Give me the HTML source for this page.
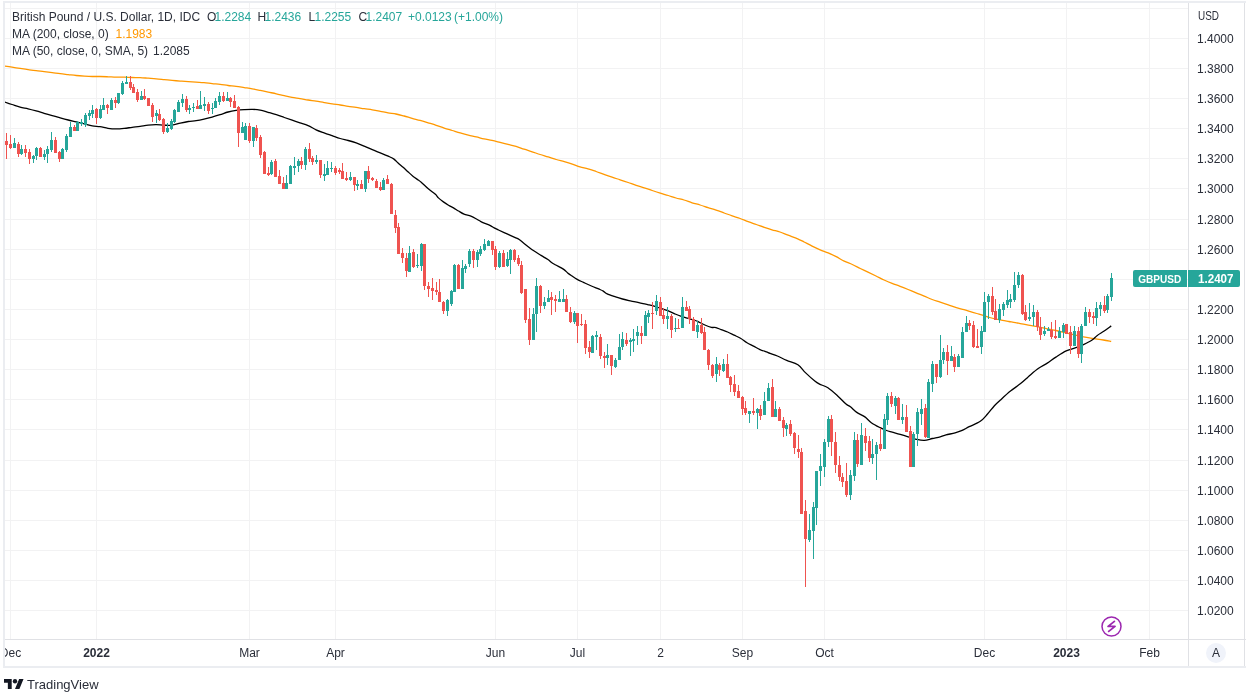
<!DOCTYPE html><html><head><meta charset="utf-8"><style>html,body{margin:0;padding:0;background:#fff;}body{width:1246px;height:695px;overflow:hidden;position:relative;font-family:"Liberation Sans",sans-serif;}svg{position:absolute;left:0;top:0;will-change:transform;}text{font-family:"Liberation Sans",sans-serif;}.t{opacity:0.999}</style></head><body>
<svg width="1246" height="695" viewBox="0 0 1246 695">
<defs><clipPath id="pane"><rect x="5" y="3" width="1183" height="636"/></clipPath><clipPath id="taxis"><rect x="5" y="640" width="1183" height="26"/></clipPath></defs>
<g shape-rendering="crispEdges">
<rect x="3" y="1" width="1243" height="2" fill="#ebedf1"/>
<rect x="3" y="1" width="2" height="667" fill="#ebedf1"/>
<rect x="1244" y="3" width="1" height="663" fill="#e0e1e5"/>
<rect x="3" y="666" width="1243" height="2" fill="#ebedf1"/>
<g clip-path="url(#pane)">
<rect x="5" y="8" width="1183" height="1" fill="#f2f2f3"/>
<rect x="5" y="38" width="1183" height="1" fill="#f2f2f3"/>
<rect x="5" y="68" width="1183" height="1" fill="#f2f2f3"/>
<rect x="5" y="98" width="1183" height="1" fill="#f2f2f3"/>
<rect x="5" y="128" width="1183" height="1" fill="#f2f2f3"/>
<rect x="5" y="158" width="1183" height="1" fill="#f2f2f3"/>
<rect x="5" y="188" width="1183" height="1" fill="#f2f2f3"/>
<rect x="5" y="219" width="1183" height="1" fill="#f2f2f3"/>
<rect x="5" y="249" width="1183" height="1" fill="#f2f2f3"/>
<rect x="5" y="279" width="1183" height="1" fill="#f2f2f3"/>
<rect x="5" y="309" width="1183" height="1" fill="#f2f2f3"/>
<rect x="5" y="339" width="1183" height="1" fill="#f2f2f3"/>
<rect x="5" y="369" width="1183" height="1" fill="#f2f2f3"/>
<rect x="5" y="399" width="1183" height="1" fill="#f2f2f3"/>
<rect x="5" y="429" width="1183" height="1" fill="#f2f2f3"/>
<rect x="5" y="460" width="1183" height="1" fill="#f2f2f3"/>
<rect x="5" y="490" width="1183" height="1" fill="#f2f2f3"/>
<rect x="5" y="520" width="1183" height="1" fill="#f2f2f3"/>
<rect x="5" y="550" width="1183" height="1" fill="#f2f2f3"/>
<rect x="5" y="580" width="1183" height="1" fill="#f2f2f3"/>
<rect x="5" y="610" width="1183" height="1" fill="#f2f2f3"/>
<rect x="10" y="3" width="1" height="636" fill="#f2f2f3"/>
<rect x="96" y="3" width="1" height="636" fill="#f2f2f3"/>
<rect x="249" y="3" width="1" height="636" fill="#f2f2f3"/>
<rect x="335" y="3" width="1" height="636" fill="#f2f2f3"/>
<rect x="495" y="3" width="1" height="636" fill="#f2f2f3"/>
<rect x="577" y="3" width="1" height="636" fill="#f2f2f3"/>
<rect x="660" y="3" width="1" height="636" fill="#f2f2f3"/>
<rect x="742" y="3" width="1" height="636" fill="#f2f2f3"/>
<rect x="824" y="3" width="1" height="636" fill="#f2f2f3"/>
<rect x="984" y="3" width="1" height="636" fill="#f2f2f3"/>
<rect x="1066" y="3" width="1" height="636" fill="#f2f2f3"/>
<rect x="1149" y="3" width="1" height="636" fill="#f2f2f3"/>
</g>
<rect x="1188" y="3" width="1" height="663" fill="#e0e1e5"/>
<rect x="5" y="639" width="1241" height="1" fill="#e0e1e5"/>
</g>
<g clip-path="url(#pane)" fill="none" stroke-linejoin="round">
<path d="M4.00,65.90 C5.33,66.12 9.32,66.78 12.00,67.20 C14.68,67.62 17.42,68.00 20.10,68.40 C22.78,68.80 25.43,69.22 28.10,69.60 C30.77,69.98 33.43,70.37 36.10,70.70 C38.77,71.03 41.42,71.28 44.10,71.60 C46.78,71.92 49.52,72.25 52.20,72.60 C54.88,72.95 57.53,73.37 60.20,73.70 C62.87,74.03 65.53,74.30 68.20,74.60 C70.87,74.90 73.52,75.25 76.20,75.50 C78.88,75.75 81.62,75.93 84.30,76.10 C86.98,76.27 89.68,76.43 92.30,76.50 C94.92,76.57 97.38,76.45 100.00,76.50 C102.62,76.55 105.32,76.68 108.00,76.80 C110.68,76.92 113.42,77.13 116.10,77.20 C118.78,77.27 121.43,77.15 124.10,77.20 C126.77,77.25 129.43,77.43 132.10,77.50 C134.77,77.57 137.42,77.48 140.10,77.60 C142.78,77.72 145.52,78.00 148.20,78.20 C150.88,78.40 153.53,78.57 156.20,78.80 C158.87,79.03 161.53,79.33 164.20,79.60 C166.87,79.87 169.52,80.15 172.20,80.40 C174.88,80.65 177.62,80.88 180.30,81.10 C182.98,81.32 185.68,81.52 188.30,81.70 C190.92,81.88 193.38,82.05 196.00,82.20 C198.62,82.35 201.32,82.37 204.00,82.60 C206.68,82.83 209.42,83.30 212.10,83.60 C214.78,83.90 217.43,84.08 220.10,84.40 C222.77,84.72 225.43,85.17 228.10,85.50 C230.77,85.83 233.42,86.05 236.10,86.40 C238.78,86.75 241.52,87.20 244.20,87.60 C246.88,88.00 249.53,88.33 252.20,88.80 C254.87,89.27 257.53,89.85 260.20,90.40 C262.87,90.95 265.52,91.53 268.20,92.10 C270.88,92.67 273.62,93.20 276.30,93.80 C278.98,94.40 281.68,95.10 284.30,95.70 C286.92,96.30 289.38,96.92 292.00,97.40 C294.62,97.88 297.32,98.17 300.00,98.60 C302.68,99.03 305.42,99.57 308.10,100.00 C310.78,100.43 313.43,100.77 316.10,101.20 C318.77,101.63 321.43,102.15 324.10,102.60 C326.77,103.05 329.42,103.50 332.10,103.90 C334.78,104.30 337.52,104.60 340.20,105.00 C342.88,105.40 345.53,105.90 348.20,106.30 C350.87,106.70 353.53,107.00 356.20,107.40 C358.87,107.80 361.52,108.30 364.20,108.70 C366.88,109.10 369.62,109.37 372.30,109.80 C374.98,110.23 377.68,110.78 380.30,111.30 C382.92,111.82 385.38,112.45 388.00,112.90 C390.62,113.35 393.32,113.48 396.00,114.00 C398.68,114.52 401.42,115.28 404.10,116.00 C406.78,116.72 409.43,117.57 412.10,118.30 C414.77,119.03 417.43,119.65 420.10,120.40 C422.77,121.15 425.42,121.98 428.10,122.80 C430.78,123.62 433.52,124.42 436.20,125.30 C438.88,126.18 441.53,127.23 444.20,128.10 C446.87,128.97 449.53,129.70 452.20,130.50 C454.87,131.30 457.52,132.13 460.20,132.90 C462.88,133.67 465.62,134.43 468.30,135.10 C470.98,135.77 473.68,136.27 476.30,136.90 C478.92,137.53 481.38,138.32 484.00,138.90 C486.62,139.48 489.32,139.82 492.00,140.40 C494.68,140.98 497.42,141.73 500.10,142.40 C502.78,143.07 505.43,143.73 508.10,144.40 C510.77,145.07 513.43,145.60 516.10,146.40 C518.77,147.20 521.42,148.30 524.10,149.20 C526.78,150.10 529.52,150.92 532.20,151.80 C534.88,152.68 537.53,153.65 540.20,154.50 C542.87,155.35 545.53,156.07 548.20,156.90 C550.87,157.73 553.52,158.70 556.20,159.50 C558.88,160.30 561.62,160.93 564.30,161.70 C566.98,162.47 569.68,163.23 572.30,164.10 C574.92,164.97 577.38,166.12 580.00,166.90 C582.62,167.68 585.32,168.03 588.00,168.80 C590.68,169.57 593.42,170.57 596.10,171.50 C598.78,172.43 601.43,173.45 604.10,174.40 C606.77,175.35 609.43,176.30 612.10,177.20 C614.77,178.10 617.42,178.92 620.10,179.80 C622.78,180.68 625.52,181.58 628.20,182.50 C630.88,183.42 633.53,184.42 636.20,185.30 C638.87,186.18 641.53,186.93 644.20,187.80 C646.87,188.67 649.52,189.62 652.20,190.50 C654.88,191.38 657.62,192.27 660.30,193.10 C662.98,193.93 665.68,194.68 668.30,195.50 C670.92,196.32 673.38,197.25 676.00,198.00 C678.62,198.75 681.32,199.20 684.00,200.00 C686.68,200.80 689.42,201.97 692.10,202.80 C694.78,203.63 697.43,204.20 700.10,205.00 C702.77,205.80 705.43,206.75 708.10,207.60 C710.77,208.45 713.42,209.20 716.10,210.10 C718.78,211.00 721.52,212.03 724.20,213.00 C726.88,213.97 729.53,214.98 732.20,215.90 C734.87,216.82 737.53,217.53 740.20,218.50 C742.87,219.47 745.52,220.70 748.20,221.70 C750.88,222.70 753.62,223.57 756.30,224.50 C758.98,225.43 761.68,226.42 764.30,227.30 C766.92,228.18 769.38,229.02 772.00,229.80 C774.62,230.58 777.32,231.10 780.00,232.00 C782.68,232.90 785.15,234.07 788.10,235.20 C791.05,236.33 795.03,237.67 797.70,238.80 C800.37,239.93 801.70,240.78 804.10,242.00 C806.50,243.22 809.42,244.80 812.10,246.10 C814.78,247.40 817.52,248.67 820.20,249.80 C822.88,250.93 825.53,251.75 828.20,252.90 C830.87,254.05 833.53,255.33 836.20,256.70 C838.87,258.07 841.52,259.80 844.20,261.10 C846.88,262.40 849.62,263.27 852.30,264.50 C854.98,265.73 857.68,267.22 860.30,268.50 C862.92,269.78 865.38,270.95 868.00,272.20 C870.62,273.45 873.32,274.70 876.00,276.00 C878.68,277.30 881.42,278.77 884.10,280.00 C886.78,281.23 889.43,282.35 892.10,283.40 C894.77,284.45 897.43,285.28 900.10,286.30 C902.77,287.32 905.42,288.40 908.10,289.50 C910.78,290.60 913.52,291.80 916.20,292.90 C918.88,294.00 921.53,295.00 924.20,296.10 C926.87,297.20 929.53,298.50 932.20,299.50 C934.87,300.50 937.52,301.20 940.20,302.10 C942.88,303.00 945.62,303.97 948.30,304.90 C950.98,305.83 953.68,306.92 956.30,307.70 C958.92,308.48 961.65,308.95 964.00,309.60 C966.35,310.25 968.27,310.95 970.40,311.60 C972.53,312.25 974.65,312.87 976.80,313.50 C978.95,314.13 981.15,314.73 983.30,315.40 C985.45,316.07 987.57,316.88 989.70,317.50 C991.83,318.12 993.97,318.62 996.10,319.10 C998.23,319.58 1000.37,320.00 1002.50,320.40 C1004.63,320.80 1006.75,321.13 1008.90,321.50 C1011.05,321.87 1013.25,322.20 1015.40,322.60 C1017.55,323.00 1019.37,323.45 1021.80,323.90 C1024.23,324.35 1027.20,324.80 1030.00,325.30 C1032.80,325.80 1035.72,326.30 1038.60,326.90 C1041.48,327.50 1044.42,328.30 1047.30,328.90 C1050.18,329.50 1052.75,329.83 1055.90,330.50 C1059.05,331.17 1062.75,332.08 1066.20,332.90 C1069.65,333.72 1073.72,334.75 1076.60,335.40 C1079.48,336.05 1080.92,336.32 1083.50,336.80 C1086.08,337.28 1088.80,337.77 1092.10,338.30 C1095.40,338.83 1100.12,339.47 1103.30,340.00 C1106.48,340.53 1109.88,341.25 1111.20,341.50" stroke="#ff9800" stroke-width="1.3"/>
<path d="M4.00,101.80 C5.33,102.25 9.32,103.60 12.00,104.50 C14.68,105.40 17.42,106.48 20.10,107.20 C22.78,107.92 25.43,108.18 28.10,108.80 C30.77,109.42 33.43,110.15 36.10,110.90 C38.77,111.65 41.42,112.50 44.10,113.30 C46.78,114.10 49.52,114.93 52.20,115.70 C54.88,116.47 57.53,117.18 60.20,117.90 C62.87,118.62 65.53,119.33 68.20,120.00 C70.87,120.67 73.52,121.25 76.20,121.90 C78.88,122.55 81.62,123.23 84.30,123.90 C86.98,124.57 89.68,125.43 92.30,125.90 C94.92,126.37 97.38,126.30 100.00,126.70 C102.62,127.10 105.33,127.93 108.00,128.30 C110.67,128.67 113.32,128.88 116.00,128.90 C118.68,128.92 121.42,128.67 124.10,128.40 C126.78,128.13 129.43,127.65 132.10,127.30 C134.77,126.95 137.42,126.67 140.10,126.30 C142.78,125.93 145.52,125.37 148.20,125.10 C150.88,124.83 153.53,124.68 156.20,124.70 C158.87,124.72 161.53,125.13 164.20,125.20 C166.87,125.27 169.52,125.45 172.20,125.10 C174.88,124.75 177.62,123.70 180.30,123.10 C182.98,122.50 185.65,121.92 188.30,121.50 C190.95,121.08 193.58,121.00 196.20,120.60 C198.82,120.20 201.35,119.68 204.00,119.10 C206.65,118.52 209.42,117.83 212.10,117.10 C214.78,116.37 217.43,115.55 220.10,114.70 C222.77,113.85 225.43,112.72 228.10,112.00 C230.77,111.28 233.42,110.80 236.10,110.40 C238.78,110.00 241.52,109.78 244.20,109.60 C246.88,109.42 249.53,109.22 252.20,109.30 C254.87,109.38 257.53,109.60 260.20,110.10 C262.87,110.60 265.52,111.53 268.20,112.30 C270.88,113.07 273.62,113.83 276.30,114.70 C278.98,115.57 281.65,116.58 284.30,117.50 C286.95,118.42 289.58,119.32 292.20,120.20 C294.82,121.08 297.35,121.90 300.00,122.80 C302.65,123.70 305.42,124.43 308.10,125.60 C310.78,126.77 313.43,128.58 316.10,129.80 C318.77,131.02 321.43,131.92 324.10,132.90 C326.77,133.88 329.42,134.77 332.10,135.70 C334.78,136.63 337.52,137.70 340.20,138.50 C342.88,139.30 345.53,139.77 348.20,140.50 C350.87,141.23 353.53,141.97 356.20,142.90 C358.87,143.83 361.52,144.97 364.20,146.10 C366.88,147.23 369.62,148.57 372.30,149.70 C374.98,150.83 377.65,151.82 380.30,152.90 C382.95,153.98 385.92,155.17 388.20,156.20 C390.48,157.23 392.35,157.95 394.00,159.10 C395.65,160.25 396.58,161.73 398.10,163.10 C399.62,164.47 401.42,165.82 403.10,167.30 C404.78,168.78 406.52,170.48 408.20,172.00 C409.88,173.52 411.53,175.07 413.20,176.40 C414.87,177.73 416.87,179.03 418.20,180.00 C419.53,180.97 419.52,180.73 421.20,182.20 C422.88,183.67 425.93,186.78 428.30,188.80 C430.67,190.82 433.72,192.78 435.40,194.30 C437.08,195.82 437.07,196.63 438.40,197.90 C439.73,199.17 441.72,200.68 443.40,201.90 C445.08,203.12 446.82,204.20 448.50,205.20 C450.18,206.20 451.83,206.93 453.50,207.90 C455.17,208.87 456.75,209.97 458.50,211.00 C460.25,212.03 461.93,213.23 464.00,214.10 C466.07,214.97 468.75,215.35 470.90,216.20 C473.05,217.05 475.17,218.27 476.90,219.20 C478.63,220.13 479.13,220.78 481.30,221.80 C483.47,222.82 487.75,224.28 489.90,225.30 C492.05,226.32 492.77,227.12 494.20,227.90 C495.63,228.68 496.35,229.00 498.50,230.00 C500.65,231.00 504.22,232.60 507.10,233.90 C509.98,235.20 513.78,236.87 515.80,237.80 C517.82,238.73 517.77,238.52 519.20,239.50 C520.63,240.48 522.10,241.90 524.40,243.70 C526.70,245.50 530.23,248.35 533.00,250.30 C535.77,252.25 538.52,253.87 541.00,255.40 C543.48,256.93 546.08,258.28 547.90,259.50 C549.72,260.72 550.58,261.78 551.90,262.70 C553.22,263.62 553.83,263.88 555.80,265.00 C557.77,266.12 561.72,268.08 563.70,269.40 C565.68,270.72 566.38,271.85 567.70,272.90 C569.02,273.95 570.02,274.62 571.60,275.70 C573.18,276.78 575.22,278.28 577.20,279.40 C579.18,280.52 581.13,281.30 583.50,282.40 C585.87,283.50 588.77,284.87 591.40,286.00 C594.03,287.13 597.32,288.35 599.30,289.20 C601.28,290.05 601.98,290.32 603.30,291.10 C604.62,291.88 605.15,292.93 607.20,293.90 C609.25,294.87 613.05,296.05 615.60,296.90 C618.15,297.75 620.28,298.38 622.50,299.00 C624.72,299.62 626.75,300.12 628.90,300.60 C631.05,301.08 633.23,301.43 635.40,301.90 C637.57,302.37 639.73,302.92 641.90,303.40 C644.07,303.88 646.25,304.30 648.40,304.80 C650.55,305.30 652.65,305.77 654.80,306.40 C656.95,307.03 659.13,307.88 661.30,308.60 C663.47,309.32 665.63,309.87 667.80,310.70 C669.97,311.53 672.15,312.68 674.30,313.60 C676.45,314.52 678.55,315.45 680.70,316.20 C682.85,316.95 684.77,317.38 687.20,318.10 C689.63,318.82 693.42,319.88 695.30,320.50 C697.18,321.12 696.90,321.05 698.50,321.80 C700.10,322.55 702.75,324.08 704.90,325.00 C707.05,325.92 709.55,326.87 711.40,327.30 C713.25,327.73 714.38,327.22 716.00,327.60 C717.62,327.98 719.17,328.87 721.10,329.60 C723.03,330.33 725.43,331.08 727.60,332.00 C729.77,332.92 731.95,334.05 734.10,335.10 C736.25,336.15 738.35,337.02 740.50,338.30 C742.65,339.58 744.83,341.50 747.00,342.80 C749.17,344.10 751.33,344.97 753.50,346.10 C755.67,347.23 757.85,348.63 760.00,349.60 C762.15,350.57 764.73,351.28 766.40,351.90 C768.07,352.52 768.17,352.62 770.00,353.30 C771.83,353.98 774.62,354.82 777.40,356.00 C780.18,357.18 783.28,358.93 786.70,360.40 C790.12,361.87 794.78,362.77 797.90,364.80 C801.02,366.83 802.58,369.90 805.40,372.60 C808.22,375.30 812.45,379.08 814.80,381.00 C817.15,382.92 817.32,382.97 819.50,384.10 C821.68,385.23 824.78,385.75 827.90,387.80 C831.02,389.85 835.18,393.70 838.20,396.40 C841.22,399.10 843.97,402.27 846.00,404.00 C848.03,405.73 848.60,405.40 850.40,406.80 C852.20,408.20 854.38,410.72 856.80,412.40 C859.22,414.08 862.48,415.18 864.90,416.90 C867.32,418.62 868.77,420.90 871.30,422.70 C873.83,424.50 877.57,426.40 880.10,427.70 C882.63,429.00 884.48,429.77 886.50,430.50 C888.52,431.23 889.92,431.47 892.20,432.10 C894.48,432.73 897.53,433.50 900.20,434.30 C902.87,435.10 905.53,436.07 908.20,436.90 C910.87,437.73 913.52,438.72 916.20,439.30 C918.88,439.88 921.62,440.53 924.30,440.40 C926.98,440.27 929.65,439.10 932.30,438.50 C934.95,437.90 937.92,437.40 940.20,436.80 C942.48,436.20 943.52,435.55 946.00,434.90 C948.48,434.25 952.40,433.65 955.10,432.90 C957.80,432.15 959.85,431.43 962.20,430.40 C964.55,429.37 966.18,428.22 969.20,426.70 C972.22,425.18 977.28,423.37 980.30,421.30 C983.32,419.23 984.95,416.90 987.30,414.30 C989.65,411.70 992.22,408.08 994.40,405.70 C996.58,403.32 997.72,402.43 1000.40,400.00 C1003.08,397.57 1007.13,393.83 1010.50,391.10 C1013.87,388.37 1017.75,385.87 1020.60,383.60 C1023.45,381.33 1026.03,378.90 1027.60,377.50 C1029.17,376.10 1028.17,376.73 1030.00,375.20 C1031.83,373.67 1035.72,370.32 1038.60,368.30 C1041.48,366.28 1044.42,364.97 1047.30,363.10 C1050.18,361.23 1052.75,359.13 1055.90,357.10 C1059.05,355.07 1062.75,352.52 1066.20,350.90 C1069.65,349.28 1073.72,348.45 1076.60,347.40 C1079.48,346.35 1080.92,345.83 1083.50,344.60 C1086.08,343.37 1089.80,341.53 1092.10,340.00 C1094.40,338.47 1095.28,336.90 1097.30,335.40 C1099.32,333.90 1101.88,332.58 1104.20,331.00 C1106.52,329.42 1110.03,326.75 1111.20,325.90" stroke="#000" stroke-width="1.3"/>
</g>
<g clip-path="url(#pane)" shape-rendering="crispEdges">
<rect x="6" y="133" width="1" height="26" fill="#ef5350"/>
<rect x="5" y="141" width="3" height="4" fill="#ef5350"/>
<rect x="10" y="135" width="1" height="14" fill="#ef5350"/>
<rect x="9" y="144" width="3" height="4" fill="#ef5350"/>
<rect x="14" y="138" width="1" height="10" fill="#26a69a"/>
<rect x="13" y="143" width="3" height="5" fill="#26a69a"/>
<rect x="18" y="142" width="1" height="15" fill="#ef5350"/>
<rect x="17" y="144" width="3" height="10" fill="#ef5350"/>
<rect x="21" y="145" width="1" height="10" fill="#26a69a"/>
<rect x="20" y="149" width="3" height="5" fill="#26a69a"/>
<rect x="25" y="145" width="1" height="12" fill="#ef5350"/>
<rect x="24" y="149" width="3" height="4" fill="#ef5350"/>
<rect x="29" y="149" width="1" height="15" fill="#ef5350"/>
<rect x="28" y="152" width="3" height="7" fill="#ef5350"/>
<rect x="33" y="155" width="1" height="8" fill="#26a69a"/>
<rect x="32" y="156" width="3" height="3" fill="#26a69a"/>
<rect x="36" y="147" width="1" height="13" fill="#26a69a"/>
<rect x="35" y="148" width="3" height="8" fill="#26a69a"/>
<rect x="40" y="147" width="1" height="10" fill="#ef5350"/>
<rect x="39" y="148" width="3" height="9" fill="#ef5350"/>
<rect x="44" y="150" width="1" height="10" fill="#26a69a"/>
<rect x="43" y="154" width="3" height="3" fill="#26a69a"/>
<rect x="47" y="146" width="1" height="17" fill="#26a69a"/>
<rect x="46" y="149" width="3" height="5" fill="#26a69a"/>
<rect x="51" y="132" width="1" height="20" fill="#26a69a"/>
<rect x="50" y="140" width="3" height="10" fill="#26a69a"/>
<rect x="55" y="137" width="1" height="16" fill="#ef5350"/>
<rect x="54" y="140" width="3" height="13" fill="#ef5350"/>
<rect x="59" y="151" width="1" height="11" fill="#ef5350"/>
<rect x="58" y="152" width="3" height="7" fill="#ef5350"/>
<rect x="62" y="148" width="1" height="11" fill="#26a69a"/>
<rect x="61" y="149" width="3" height="10" fill="#26a69a"/>
<rect x="66" y="134" width="1" height="18" fill="#26a69a"/>
<rect x="65" y="136" width="3" height="14" fill="#26a69a"/>
<rect x="70" y="122" width="1" height="15" fill="#26a69a"/>
<rect x="69" y="127" width="3" height="10" fill="#26a69a"/>
<rect x="74" y="125" width="1" height="6" fill="#ef5350"/>
<rect x="73" y="127" width="3" height="4" fill="#ef5350"/>
<rect x="77" y="121" width="1" height="10" fill="#26a69a"/>
<rect x="76" y="122" width="3" height="9" fill="#26a69a"/>
<rect x="81" y="119" width="1" height="7" fill="#26a69a"/>
<rect x="80" y="122" width="3" height="2" fill="#26a69a"/>
<rect x="85" y="113" width="1" height="14" fill="#26a69a"/>
<rect x="84" y="115" width="3" height="10" fill="#26a69a"/>
<rect x="89" y="110" width="1" height="10" fill="#26a69a"/>
<rect x="88" y="113" width="3" height="3" fill="#26a69a"/>
<rect x="92" y="105" width="1" height="13" fill="#26a69a"/>
<rect x="91" y="110" width="3" height="4" fill="#26a69a"/>
<rect x="96" y="108" width="1" height="16" fill="#ef5350"/>
<rect x="95" y="109" width="3" height="9" fill="#ef5350"/>
<rect x="100" y="105" width="1" height="14" fill="#26a69a"/>
<rect x="99" y="109" width="3" height="9" fill="#26a69a"/>
<rect x="103" y="98" width="1" height="12" fill="#26a69a"/>
<rect x="102" y="105" width="3" height="5" fill="#26a69a"/>
<rect x="107" y="104" width="1" height="10" fill="#ef5350"/>
<rect x="106" y="105" width="3" height="3" fill="#ef5350"/>
<rect x="111" y="98" width="1" height="12" fill="#26a69a"/>
<rect x="110" y="100" width="3" height="10" fill="#26a69a"/>
<rect x="115" y="97" width="1" height="11" fill="#ef5350"/>
<rect x="114" y="100" width="3" height="3" fill="#ef5350"/>
<rect x="118" y="93" width="1" height="11" fill="#26a69a"/>
<rect x="117" y="93" width="3" height="10" fill="#26a69a"/>
<rect x="122" y="81" width="1" height="14" fill="#26a69a"/>
<rect x="121" y="83" width="3" height="11" fill="#26a69a"/>
<rect x="126" y="76" width="1" height="8" fill="#26a69a"/>
<rect x="125" y="82" width="3" height="2" fill="#26a69a"/>
<rect x="130" y="76" width="1" height="14" fill="#ef5350"/>
<rect x="129" y="82" width="3" height="6" fill="#ef5350"/>
<rect x="133" y="84" width="1" height="9" fill="#ef5350"/>
<rect x="132" y="87" width="3" height="6" fill="#ef5350"/>
<rect x="137" y="89" width="1" height="13" fill="#ef5350"/>
<rect x="136" y="92" width="3" height="8" fill="#ef5350"/>
<rect x="141" y="91" width="1" height="9" fill="#26a69a"/>
<rect x="140" y="96" width="3" height="4" fill="#26a69a"/>
<rect x="144" y="89" width="1" height="11" fill="#ef5350"/>
<rect x="143" y="96" width="3" height="3" fill="#ef5350"/>
<rect x="148" y="98" width="1" height="8" fill="#ef5350"/>
<rect x="147" y="98" width="3" height="8" fill="#ef5350"/>
<rect x="152" y="103" width="1" height="19" fill="#ef5350"/>
<rect x="151" y="105" width="3" height="12" fill="#ef5350"/>
<rect x="156" y="110" width="1" height="13" fill="#26a69a"/>
<rect x="155" y="113" width="3" height="3" fill="#26a69a"/>
<rect x="159" y="109" width="1" height="12" fill="#ef5350"/>
<rect x="158" y="114" width="3" height="6" fill="#ef5350"/>
<rect x="163" y="118" width="1" height="16" fill="#ef5350"/>
<rect x="162" y="119" width="3" height="13" fill="#ef5350"/>
<rect x="167" y="123" width="1" height="10" fill="#26a69a"/>
<rect x="166" y="128" width="3" height="4" fill="#26a69a"/>
<rect x="171" y="119" width="1" height="11" fill="#26a69a"/>
<rect x="170" y="121" width="3" height="8" fill="#26a69a"/>
<rect x="174" y="109" width="1" height="14" fill="#26a69a"/>
<rect x="173" y="110" width="3" height="12" fill="#26a69a"/>
<rect x="178" y="100" width="1" height="12" fill="#26a69a"/>
<rect x="177" y="102" width="3" height="10" fill="#26a69a"/>
<rect x="182" y="94" width="1" height="13" fill="#26a69a"/>
<rect x="181" y="99" width="3" height="4" fill="#26a69a"/>
<rect x="186" y="96" width="1" height="16" fill="#ef5350"/>
<rect x="185" y="99" width="3" height="11" fill="#ef5350"/>
<rect x="189" y="105" width="1" height="9" fill="#26a69a"/>
<rect x="188" y="108" width="3" height="2" fill="#26a69a"/>
<rect x="193" y="103" width="1" height="9" fill="#26a69a"/>
<rect x="192" y="107" width="3" height="1" fill="#26a69a"/>
<rect x="197" y="100" width="1" height="9" fill="#ef5350"/>
<rect x="196" y="106" width="3" height="3" fill="#ef5350"/>
<rect x="200" y="91" width="1" height="18" fill="#26a69a"/>
<rect x="199" y="105" width="3" height="4" fill="#26a69a"/>
<rect x="204" y="97" width="1" height="14" fill="#26a69a"/>
<rect x="203" y="104" width="3" height="2" fill="#26a69a"/>
<rect x="208" y="102" width="1" height="12" fill="#ef5350"/>
<rect x="207" y="104" width="3" height="7" fill="#ef5350"/>
<rect x="212" y="103" width="1" height="11" fill="#26a69a"/>
<rect x="211" y="108" width="3" height="1" fill="#26a69a"/>
<rect x="215" y="98" width="1" height="10" fill="#26a69a"/>
<rect x="214" y="101" width="3" height="7" fill="#26a69a"/>
<rect x="219" y="92" width="1" height="13" fill="#26a69a"/>
<rect x="218" y="96" width="3" height="6" fill="#26a69a"/>
<rect x="223" y="92" width="1" height="10" fill="#ef5350"/>
<rect x="222" y="96" width="3" height="5" fill="#ef5350"/>
<rect x="227" y="92" width="1" height="9" fill="#26a69a"/>
<rect x="226" y="98" width="3" height="3" fill="#26a69a"/>
<rect x="230" y="97" width="1" height="10" fill="#ef5350"/>
<rect x="229" y="98" width="3" height="4" fill="#ef5350"/>
<rect x="234" y="95" width="1" height="13" fill="#ef5350"/>
<rect x="233" y="101" width="3" height="7" fill="#ef5350"/>
<rect x="238" y="106" width="1" height="41" fill="#ef5350"/>
<rect x="237" y="107" width="3" height="26" fill="#ef5350"/>
<rect x="242" y="122" width="1" height="11" fill="#26a69a"/>
<rect x="241" y="127" width="3" height="6" fill="#26a69a"/>
<rect x="245" y="123" width="1" height="17" fill="#26a69a"/>
<rect x="244" y="126" width="3" height="14" fill="#26a69a"/>
<rect x="249" y="123" width="1" height="20" fill="#ef5350"/>
<rect x="248" y="126" width="3" height="15" fill="#ef5350"/>
<rect x="253" y="127" width="1" height="20" fill="#26a69a"/>
<rect x="252" y="127" width="3" height="14" fill="#26a69a"/>
<rect x="256" y="125" width="1" height="16" fill="#ef5350"/>
<rect x="255" y="128" width="3" height="10" fill="#ef5350"/>
<rect x="260" y="135" width="1" height="23" fill="#ef5350"/>
<rect x="259" y="137" width="3" height="18" fill="#ef5350"/>
<rect x="264" y="151" width="1" height="23" fill="#ef5350"/>
<rect x="263" y="152" width="3" height="22" fill="#ef5350"/>
<rect x="268" y="167" width="1" height="9" fill="#ef5350"/>
<rect x="267" y="173" width="3" height="2" fill="#ef5350"/>
<rect x="271" y="160" width="1" height="15" fill="#26a69a"/>
<rect x="270" y="162" width="3" height="12" fill="#26a69a"/>
<rect x="275" y="159" width="1" height="18" fill="#ef5350"/>
<rect x="274" y="161" width="3" height="16" fill="#ef5350"/>
<rect x="279" y="170" width="1" height="14" fill="#ef5350"/>
<rect x="278" y="176" width="3" height="8" fill="#ef5350"/>
<rect x="283" y="177" width="1" height="12" fill="#ef5350"/>
<rect x="282" y="183" width="3" height="6" fill="#ef5350"/>
<rect x="286" y="175" width="1" height="14" fill="#26a69a"/>
<rect x="285" y="183" width="3" height="6" fill="#26a69a"/>
<rect x="290" y="165" width="1" height="19" fill="#26a69a"/>
<rect x="289" y="166" width="3" height="18" fill="#26a69a"/>
<rect x="294" y="157" width="1" height="18" fill="#26a69a"/>
<rect x="293" y="166" width="3" height="2" fill="#26a69a"/>
<rect x="298" y="159" width="1" height="13" fill="#26a69a"/>
<rect x="297" y="161" width="3" height="5" fill="#26a69a"/>
<rect x="301" y="157" width="1" height="12" fill="#ef5350"/>
<rect x="300" y="161" width="3" height="4" fill="#ef5350"/>
<rect x="305" y="147" width="1" height="23" fill="#26a69a"/>
<rect x="304" y="149" width="3" height="16" fill="#26a69a"/>
<rect x="309" y="143" width="1" height="19" fill="#ef5350"/>
<rect x="308" y="149" width="3" height="10" fill="#ef5350"/>
<rect x="312" y="156" width="1" height="9" fill="#ef5350"/>
<rect x="311" y="158" width="3" height="4" fill="#ef5350"/>
<rect x="316" y="155" width="1" height="9" fill="#26a69a"/>
<rect x="315" y="160" width="3" height="2" fill="#26a69a"/>
<rect x="320" y="160" width="1" height="18" fill="#ef5350"/>
<rect x="319" y="160" width="3" height="15" fill="#ef5350"/>
<rect x="324" y="164" width="1" height="17" fill="#26a69a"/>
<rect x="323" y="174" width="3" height="2" fill="#26a69a"/>
<rect x="327" y="161" width="1" height="14" fill="#26a69a"/>
<rect x="326" y="168" width="3" height="7" fill="#26a69a"/>
<rect x="331" y="162" width="1" height="10" fill="#26a69a"/>
<rect x="330" y="168" width="3" height="1" fill="#26a69a"/>
<rect x="335" y="166" width="1" height="9" fill="#ef5350"/>
<rect x="334" y="168" width="3" height="5" fill="#ef5350"/>
<rect x="339" y="168" width="1" height="6" fill="#ef5350"/>
<rect x="338" y="170" width="3" height="2" fill="#ef5350"/>
<rect x="342" y="163" width="1" height="16" fill="#ef5350"/>
<rect x="341" y="171" width="3" height="8" fill="#ef5350"/>
<rect x="346" y="172" width="1" height="9" fill="#ef5350"/>
<rect x="345" y="178" width="3" height="2" fill="#ef5350"/>
<rect x="350" y="172" width="1" height="9" fill="#26a69a"/>
<rect x="349" y="177" width="3" height="3" fill="#26a69a"/>
<rect x="354" y="177" width="1" height="14" fill="#ef5350"/>
<rect x="353" y="177" width="3" height="8" fill="#ef5350"/>
<rect x="357" y="180" width="1" height="10" fill="#26a69a"/>
<rect x="356" y="184" width="3" height="2" fill="#26a69a"/>
<rect x="361" y="180" width="1" height="9" fill="#ef5350"/>
<rect x="360" y="184" width="3" height="5" fill="#ef5350"/>
<rect x="365" y="171" width="1" height="21" fill="#26a69a"/>
<rect x="364" y="171" width="3" height="18" fill="#26a69a"/>
<rect x="368" y="166" width="1" height="17" fill="#ef5350"/>
<rect x="367" y="171" width="3" height="8" fill="#ef5350"/>
<rect x="372" y="177" width="1" height="4" fill="#ef5350"/>
<rect x="371" y="178" width="3" height="2" fill="#ef5350"/>
<rect x="376" y="179" width="1" height="9" fill="#ef5350"/>
<rect x="375" y="181" width="3" height="7" fill="#ef5350"/>
<rect x="380" y="182" width="1" height="9" fill="#ef5350"/>
<rect x="379" y="187" width="3" height="3" fill="#ef5350"/>
<rect x="383" y="178" width="1" height="12" fill="#26a69a"/>
<rect x="382" y="180" width="3" height="10" fill="#26a69a"/>
<rect x="387" y="175" width="1" height="9" fill="#ef5350"/>
<rect x="386" y="179" width="3" height="5" fill="#ef5350"/>
<rect x="391" y="183" width="1" height="31" fill="#ef5350"/>
<rect x="390" y="184" width="3" height="30" fill="#ef5350"/>
<rect x="395" y="210" width="1" height="23" fill="#ef5350"/>
<rect x="394" y="215" width="3" height="13" fill="#ef5350"/>
<rect x="398" y="223" width="1" height="31" fill="#ef5350"/>
<rect x="397" y="227" width="3" height="27" fill="#ef5350"/>
<rect x="402" y="248" width="1" height="15" fill="#ef5350"/>
<rect x="401" y="253" width="3" height="5" fill="#ef5350"/>
<rect x="406" y="253" width="1" height="24" fill="#ef5350"/>
<rect x="405" y="258" width="3" height="13" fill="#ef5350"/>
<rect x="409" y="246" width="1" height="26" fill="#26a69a"/>
<rect x="408" y="253" width="3" height="19" fill="#26a69a"/>
<rect x="413" y="249" width="1" height="19" fill="#ef5350"/>
<rect x="412" y="252" width="3" height="15" fill="#ef5350"/>
<rect x="417" y="254" width="1" height="14" fill="#26a69a"/>
<rect x="416" y="265" width="3" height="1" fill="#26a69a"/>
<rect x="421" y="243" width="1" height="28" fill="#26a69a"/>
<rect x="420" y="244" width="3" height="22" fill="#26a69a"/>
<rect x="424" y="244" width="1" height="46" fill="#ef5350"/>
<rect x="423" y="244" width="3" height="42" fill="#ef5350"/>
<rect x="428" y="282" width="1" height="15" fill="#ef5350"/>
<rect x="427" y="286" width="3" height="3" fill="#ef5350"/>
<rect x="432" y="278" width="1" height="22" fill="#ef5350"/>
<rect x="431" y="288" width="3" height="3" fill="#ef5350"/>
<rect x="436" y="282" width="1" height="13" fill="#ef5350"/>
<rect x="435" y="290" width="3" height="2" fill="#ef5350"/>
<rect x="439" y="279" width="1" height="23" fill="#ef5350"/>
<rect x="438" y="292" width="3" height="10" fill="#ef5350"/>
<rect x="443" y="301" width="1" height="13" fill="#ef5350"/>
<rect x="442" y="302" width="3" height="9" fill="#ef5350"/>
<rect x="447" y="299" width="1" height="17" fill="#26a69a"/>
<rect x="446" y="300" width="3" height="11" fill="#26a69a"/>
<rect x="451" y="290" width="1" height="16" fill="#26a69a"/>
<rect x="450" y="291" width="3" height="13" fill="#26a69a"/>
<rect x="454" y="264" width="1" height="28" fill="#26a69a"/>
<rect x="453" y="265" width="3" height="27" fill="#26a69a"/>
<rect x="458" y="264" width="1" height="25" fill="#ef5350"/>
<rect x="457" y="265" width="3" height="24" fill="#ef5350"/>
<rect x="462" y="260" width="1" height="29" fill="#26a69a"/>
<rect x="461" y="268" width="3" height="21" fill="#26a69a"/>
<rect x="465" y="264" width="1" height="9" fill="#26a69a"/>
<rect x="464" y="266" width="3" height="3" fill="#26a69a"/>
<rect x="469" y="249" width="1" height="18" fill="#26a69a"/>
<rect x="468" y="251" width="3" height="13" fill="#26a69a"/>
<rect x="473" y="249" width="1" height="19" fill="#ef5350"/>
<rect x="472" y="251" width="3" height="9" fill="#ef5350"/>
<rect x="477" y="250" width="1" height="17" fill="#26a69a"/>
<rect x="476" y="252" width="3" height="8" fill="#26a69a"/>
<rect x="480" y="246" width="1" height="10" fill="#26a69a"/>
<rect x="479" y="249" width="3" height="5" fill="#26a69a"/>
<rect x="484" y="239" width="1" height="12" fill="#26a69a"/>
<rect x="483" y="244" width="3" height="6" fill="#26a69a"/>
<rect x="488" y="240" width="1" height="6" fill="#26a69a"/>
<rect x="487" y="241" width="3" height="5" fill="#26a69a"/>
<rect x="492" y="241" width="1" height="14" fill="#ef5350"/>
<rect x="491" y="241" width="3" height="9" fill="#ef5350"/>
<rect x="495" y="246" width="1" height="24" fill="#ef5350"/>
<rect x="494" y="249" width="3" height="18" fill="#ef5350"/>
<rect x="499" y="251" width="1" height="17" fill="#26a69a"/>
<rect x="498" y="253" width="3" height="14" fill="#26a69a"/>
<rect x="503" y="250" width="1" height="17" fill="#ef5350"/>
<rect x="502" y="253" width="3" height="14" fill="#ef5350"/>
<rect x="507" y="252" width="1" height="15" fill="#26a69a"/>
<rect x="506" y="259" width="3" height="7" fill="#26a69a"/>
<rect x="510" y="249" width="1" height="25" fill="#26a69a"/>
<rect x="509" y="250" width="3" height="10" fill="#26a69a"/>
<rect x="514" y="249" width="1" height="13" fill="#ef5350"/>
<rect x="513" y="250" width="3" height="10" fill="#ef5350"/>
<rect x="518" y="255" width="1" height="11" fill="#ef5350"/>
<rect x="517" y="258" width="3" height="6" fill="#ef5350"/>
<rect x="521" y="261" width="1" height="33" fill="#ef5350"/>
<rect x="520" y="265" width="3" height="28" fill="#ef5350"/>
<rect x="525" y="289" width="1" height="34" fill="#ef5350"/>
<rect x="524" y="289" width="3" height="31" fill="#ef5350"/>
<rect x="529" y="308" width="1" height="37" fill="#ef5350"/>
<rect x="528" y="319" width="3" height="21" fill="#ef5350"/>
<rect x="533" y="308" width="1" height="32" fill="#26a69a"/>
<rect x="532" y="314" width="3" height="26" fill="#26a69a"/>
<rect x="536" y="278" width="1" height="54" fill="#26a69a"/>
<rect x="535" y="286" width="3" height="28" fill="#26a69a"/>
<rect x="540" y="285" width="1" height="28" fill="#ef5350"/>
<rect x="539" y="286" width="3" height="20" fill="#ef5350"/>
<rect x="544" y="297" width="1" height="12" fill="#26a69a"/>
<rect x="543" y="302" width="3" height="4" fill="#26a69a"/>
<rect x="548" y="290" width="1" height="12" fill="#26a69a"/>
<rect x="547" y="298" width="3" height="4" fill="#26a69a"/>
<rect x="551" y="292" width="1" height="23" fill="#ef5350"/>
<rect x="550" y="297" width="3" height="3" fill="#ef5350"/>
<rect x="555" y="295" width="1" height="17" fill="#ef5350"/>
<rect x="554" y="299" width="3" height="2" fill="#ef5350"/>
<rect x="559" y="291" width="1" height="11" fill="#26a69a"/>
<rect x="558" y="299" width="3" height="3" fill="#26a69a"/>
<rect x="563" y="289" width="1" height="13" fill="#26a69a"/>
<rect x="562" y="299" width="3" height="3" fill="#26a69a"/>
<rect x="566" y="295" width="1" height="17" fill="#ef5350"/>
<rect x="565" y="299" width="3" height="13" fill="#ef5350"/>
<rect x="570" y="307" width="1" height="16" fill="#ef5350"/>
<rect x="569" y="312" width="3" height="10" fill="#ef5350"/>
<rect x="574" y="311" width="1" height="13" fill="#26a69a"/>
<rect x="573" y="313" width="3" height="9" fill="#26a69a"/>
<rect x="577" y="313" width="1" height="30" fill="#ef5350"/>
<rect x="576" y="313" width="3" height="13" fill="#ef5350"/>
<rect x="581" y="314" width="1" height="12" fill="#ef5350"/>
<rect x="580" y="324" width="3" height="1" fill="#ef5350"/>
<rect x="585" y="320" width="1" height="34" fill="#ef5350"/>
<rect x="584" y="324" width="3" height="24" fill="#ef5350"/>
<rect x="589" y="341" width="1" height="17" fill="#ef5350"/>
<rect x="588" y="347" width="3" height="5" fill="#ef5350"/>
<rect x="592" y="335" width="1" height="18" fill="#26a69a"/>
<rect x="591" y="336" width="3" height="17" fill="#26a69a"/>
<rect x="596" y="331" width="1" height="19" fill="#26a69a"/>
<rect x="595" y="335" width="3" height="2" fill="#26a69a"/>
<rect x="600" y="334" width="1" height="25" fill="#ef5350"/>
<rect x="599" y="337" width="3" height="19" fill="#ef5350"/>
<rect x="604" y="352" width="1" height="16" fill="#ef5350"/>
<rect x="603" y="356" width="3" height="2" fill="#ef5350"/>
<rect x="607" y="344" width="1" height="21" fill="#26a69a"/>
<rect x="606" y="355" width="3" height="3" fill="#26a69a"/>
<rect x="611" y="355" width="1" height="20" fill="#ef5350"/>
<rect x="610" y="355" width="3" height="11" fill="#ef5350"/>
<rect x="615" y="358" width="1" height="10" fill="#26a69a"/>
<rect x="614" y="360" width="3" height="7" fill="#26a69a"/>
<rect x="619" y="334" width="1" height="26" fill="#26a69a"/>
<rect x="618" y="347" width="3" height="13" fill="#26a69a"/>
<rect x="622" y="332" width="1" height="18" fill="#26a69a"/>
<rect x="621" y="339" width="3" height="8" fill="#26a69a"/>
<rect x="626" y="333" width="1" height="13" fill="#ef5350"/>
<rect x="625" y="340" width="3" height="4" fill="#ef5350"/>
<rect x="630" y="338" width="1" height="18" fill="#26a69a"/>
<rect x="629" y="340" width="3" height="2" fill="#26a69a"/>
<rect x="633" y="329" width="1" height="23" fill="#26a69a"/>
<rect x="632" y="339" width="3" height="2" fill="#26a69a"/>
<rect x="637" y="326" width="1" height="19" fill="#26a69a"/>
<rect x="636" y="332" width="3" height="4" fill="#26a69a"/>
<rect x="641" y="326" width="1" height="18" fill="#ef5350"/>
<rect x="640" y="333" width="3" height="3" fill="#ef5350"/>
<rect x="645" y="311" width="1" height="25" fill="#26a69a"/>
<rect x="644" y="315" width="3" height="21" fill="#26a69a"/>
<rect x="648" y="310" width="1" height="13" fill="#26a69a"/>
<rect x="647" y="313" width="3" height="4" fill="#26a69a"/>
<rect x="652" y="302" width="1" height="27" fill="#ef5350"/>
<rect x="651" y="313" width="3" height="1" fill="#ef5350"/>
<rect x="656" y="295" width="1" height="20" fill="#26a69a"/>
<rect x="655" y="301" width="3" height="10" fill="#26a69a"/>
<rect x="660" y="297" width="1" height="19" fill="#ef5350"/>
<rect x="659" y="302" width="3" height="14" fill="#ef5350"/>
<rect x="663" y="308" width="1" height="16" fill="#ef5350"/>
<rect x="662" y="315" width="3" height="4" fill="#ef5350"/>
<rect x="667" y="307" width="1" height="22" fill="#26a69a"/>
<rect x="666" y="316" width="3" height="3" fill="#26a69a"/>
<rect x="671" y="314" width="1" height="24" fill="#ef5350"/>
<rect x="670" y="316" width="3" height="14" fill="#ef5350"/>
<rect x="675" y="318" width="1" height="14" fill="#26a69a"/>
<rect x="674" y="328" width="3" height="1" fill="#26a69a"/>
<rect x="678" y="319" width="1" height="10" fill="#ef5350"/>
<rect x="677" y="328" width="3" height="1" fill="#ef5350"/>
<rect x="682" y="297" width="1" height="31" fill="#26a69a"/>
<rect x="681" y="307" width="3" height="21" fill="#26a69a"/>
<rect x="686" y="301" width="1" height="10" fill="#ef5350"/>
<rect x="685" y="307" width="3" height="4" fill="#ef5350"/>
<rect x="689" y="306" width="1" height="18" fill="#ef5350"/>
<rect x="688" y="309" width="3" height="10" fill="#ef5350"/>
<rect x="693" y="317" width="1" height="14" fill="#ef5350"/>
<rect x="692" y="319" width="3" height="12" fill="#ef5350"/>
<rect x="697" y="321" width="1" height="17" fill="#26a69a"/>
<rect x="696" y="325" width="3" height="7" fill="#26a69a"/>
<rect x="701" y="318" width="1" height="16" fill="#ef5350"/>
<rect x="700" y="325" width="3" height="8" fill="#ef5350"/>
<rect x="704" y="327" width="1" height="23" fill="#ef5350"/>
<rect x="703" y="332" width="3" height="18" fill="#ef5350"/>
<rect x="708" y="349" width="1" height="21" fill="#ef5350"/>
<rect x="707" y="350" width="3" height="15" fill="#ef5350"/>
<rect x="712" y="364" width="1" height="14" fill="#ef5350"/>
<rect x="711" y="365" width="3" height="11" fill="#ef5350"/>
<rect x="716" y="357" width="1" height="25" fill="#26a69a"/>
<rect x="715" y="364" width="3" height="10" fill="#26a69a"/>
<rect x="719" y="363" width="1" height="13" fill="#ef5350"/>
<rect x="718" y="365" width="3" height="5" fill="#ef5350"/>
<rect x="723" y="359" width="1" height="13" fill="#26a69a"/>
<rect x="722" y="364" width="3" height="7" fill="#26a69a"/>
<rect x="727" y="354" width="1" height="24" fill="#ef5350"/>
<rect x="726" y="364" width="3" height="14" fill="#ef5350"/>
<rect x="730" y="376" width="1" height="16" fill="#ef5350"/>
<rect x="729" y="377" width="3" height="8" fill="#ef5350"/>
<rect x="734" y="375" width="1" height="21" fill="#ef5350"/>
<rect x="733" y="384" width="3" height="8" fill="#ef5350"/>
<rect x="738" y="385" width="1" height="13" fill="#ef5350"/>
<rect x="737" y="391" width="3" height="7" fill="#ef5350"/>
<rect x="742" y="396" width="1" height="19" fill="#ef5350"/>
<rect x="741" y="397" width="3" height="12" fill="#ef5350"/>
<rect x="745" y="401" width="1" height="14" fill="#ef5350"/>
<rect x="744" y="408" width="3" height="5" fill="#ef5350"/>
<rect x="749" y="411" width="1" height="12" fill="#26a69a"/>
<rect x="748" y="411" width="3" height="3" fill="#26a69a"/>
<rect x="753" y="398" width="1" height="17" fill="#ef5350"/>
<rect x="752" y="411" width="3" height="2" fill="#ef5350"/>
<rect x="757" y="408" width="1" height="21" fill="#26a69a"/>
<rect x="756" y="409" width="3" height="4" fill="#26a69a"/>
<rect x="760" y="405" width="1" height="15" fill="#ef5350"/>
<rect x="759" y="409" width="3" height="7" fill="#ef5350"/>
<rect x="764" y="392" width="1" height="23" fill="#26a69a"/>
<rect x="763" y="401" width="3" height="14" fill="#26a69a"/>
<rect x="768" y="383" width="1" height="18" fill="#26a69a"/>
<rect x="767" y="388" width="3" height="13" fill="#26a69a"/>
<rect x="772" y="379" width="1" height="38" fill="#ef5350"/>
<rect x="771" y="387" width="3" height="30" fill="#ef5350"/>
<rect x="775" y="401" width="1" height="16" fill="#26a69a"/>
<rect x="774" y="409" width="3" height="8" fill="#26a69a"/>
<rect x="779" y="407" width="1" height="14" fill="#ef5350"/>
<rect x="778" y="409" width="3" height="12" fill="#ef5350"/>
<rect x="783" y="417" width="1" height="20" fill="#ef5350"/>
<rect x="782" y="420" width="3" height="8" fill="#ef5350"/>
<rect x="786" y="423" width="1" height="13" fill="#26a69a"/>
<rect x="785" y="425" width="3" height="4" fill="#26a69a"/>
<rect x="790" y="420" width="1" height="16" fill="#ef5350"/>
<rect x="789" y="424" width="3" height="10" fill="#ef5350"/>
<rect x="794" y="432" width="1" height="22" fill="#ef5350"/>
<rect x="793" y="433" width="3" height="15" fill="#ef5350"/>
<rect x="798" y="435" width="1" height="23" fill="#ef5350"/>
<rect x="797" y="449" width="3" height="3" fill="#ef5350"/>
<rect x="801" y="448" width="1" height="66" fill="#ef5350"/>
<rect x="800" y="452" width="3" height="62" fill="#ef5350"/>
<rect x="805" y="500" width="1" height="87" fill="#ef5350"/>
<rect x="804" y="511" width="3" height="28" fill="#ef5350"/>
<rect x="809" y="514" width="1" height="28" fill="#26a69a"/>
<rect x="808" y="530" width="3" height="10" fill="#26a69a"/>
<rect x="813" y="502" width="1" height="57" fill="#26a69a"/>
<rect x="812" y="507" width="3" height="24" fill="#26a69a"/>
<rect x="816" y="471" width="1" height="54" fill="#26a69a"/>
<rect x="815" y="471" width="3" height="37" fill="#26a69a"/>
<rect x="820" y="454" width="1" height="32" fill="#26a69a"/>
<rect x="819" y="466" width="3" height="5" fill="#26a69a"/>
<rect x="824" y="439" width="1" height="38" fill="#26a69a"/>
<rect x="823" y="442" width="3" height="25" fill="#26a69a"/>
<rect x="828" y="416" width="1" height="31" fill="#26a69a"/>
<rect x="827" y="419" width="3" height="23" fill="#26a69a"/>
<rect x="831" y="415" width="1" height="41" fill="#ef5350"/>
<rect x="830" y="419" width="3" height="23" fill="#ef5350"/>
<rect x="835" y="432" width="1" height="41" fill="#ef5350"/>
<rect x="834" y="442" width="3" height="23" fill="#ef5350"/>
<rect x="839" y="456" width="1" height="25" fill="#ef5350"/>
<rect x="838" y="465" width="3" height="12" fill="#ef5350"/>
<rect x="842" y="473" width="1" height="14" fill="#ef5350"/>
<rect x="841" y="477" width="3" height="5" fill="#ef5350"/>
<rect x="846" y="463" width="1" height="34" fill="#ef5350"/>
<rect x="845" y="481" width="3" height="14" fill="#ef5350"/>
<rect x="850" y="470" width="1" height="30" fill="#26a69a"/>
<rect x="849" y="475" width="3" height="20" fill="#26a69a"/>
<rect x="854" y="432" width="1" height="49" fill="#26a69a"/>
<rect x="853" y="440" width="3" height="36" fill="#26a69a"/>
<rect x="857" y="434" width="1" height="33" fill="#ef5350"/>
<rect x="856" y="440" width="3" height="24" fill="#ef5350"/>
<rect x="861" y="423" width="1" height="42" fill="#26a69a"/>
<rect x="860" y="435" width="3" height="30" fill="#26a69a"/>
<rect x="865" y="428" width="1" height="23" fill="#ef5350"/>
<rect x="864" y="436" width="3" height="7" fill="#ef5350"/>
<rect x="869" y="436" width="1" height="26" fill="#ef5350"/>
<rect x="868" y="441" width="3" height="17" fill="#ef5350"/>
<rect x="872" y="439" width="1" height="25" fill="#26a69a"/>
<rect x="871" y="454" width="3" height="4" fill="#26a69a"/>
<rect x="876" y="442" width="1" height="38" fill="#26a69a"/>
<rect x="875" y="445" width="3" height="9" fill="#26a69a"/>
<rect x="880" y="428" width="1" height="23" fill="#ef5350"/>
<rect x="879" y="444" width="3" height="5" fill="#ef5350"/>
<rect x="884" y="414" width="1" height="35" fill="#26a69a"/>
<rect x="883" y="419" width="3" height="30" fill="#26a69a"/>
<rect x="887" y="393" width="1" height="32" fill="#26a69a"/>
<rect x="886" y="396" width="3" height="24" fill="#26a69a"/>
<rect x="891" y="392" width="1" height="15" fill="#ef5350"/>
<rect x="890" y="396" width="3" height="8" fill="#ef5350"/>
<rect x="895" y="396" width="1" height="18" fill="#26a69a"/>
<rect x="894" y="398" width="3" height="8" fill="#26a69a"/>
<rect x="898" y="397" width="1" height="23" fill="#ef5350"/>
<rect x="897" y="398" width="3" height="22" fill="#ef5350"/>
<rect x="902" y="404" width="1" height="20" fill="#26a69a"/>
<rect x="901" y="417" width="3" height="3" fill="#26a69a"/>
<rect x="906" y="405" width="1" height="27" fill="#ef5350"/>
<rect x="905" y="417" width="3" height="15" fill="#ef5350"/>
<rect x="910" y="426" width="1" height="41" fill="#ef5350"/>
<rect x="909" y="431" width="3" height="36" fill="#ef5350"/>
<rect x="913" y="432" width="1" height="35" fill="#26a69a"/>
<rect x="912" y="434" width="3" height="33" fill="#26a69a"/>
<rect x="917" y="408" width="1" height="38" fill="#26a69a"/>
<rect x="916" y="412" width="3" height="22" fill="#26a69a"/>
<rect x="921" y="399" width="1" height="26" fill="#26a69a"/>
<rect x="920" y="409" width="3" height="5" fill="#26a69a"/>
<rect x="925" y="404" width="1" height="34" fill="#ef5350"/>
<rect x="924" y="408" width="3" height="29" fill="#ef5350"/>
<rect x="928" y="379" width="1" height="59" fill="#26a69a"/>
<rect x="927" y="382" width="3" height="56" fill="#26a69a"/>
<rect x="932" y="361" width="1" height="31" fill="#26a69a"/>
<rect x="931" y="364" width="3" height="20" fill="#26a69a"/>
<rect x="936" y="364" width="1" height="19" fill="#ef5350"/>
<rect x="935" y="364" width="3" height="13" fill="#ef5350"/>
<rect x="940" y="335" width="1" height="43" fill="#26a69a"/>
<rect x="939" y="360" width="3" height="17" fill="#26a69a"/>
<rect x="943" y="348" width="1" height="16" fill="#26a69a"/>
<rect x="942" y="352" width="3" height="8" fill="#26a69a"/>
<rect x="947" y="345" width="1" height="30" fill="#ef5350"/>
<rect x="946" y="352" width="3" height="9" fill="#ef5350"/>
<rect x="951" y="346" width="1" height="15" fill="#26a69a"/>
<rect x="950" y="356" width="3" height="5" fill="#26a69a"/>
<rect x="954" y="354" width="1" height="18" fill="#ef5350"/>
<rect x="953" y="357" width="3" height="10" fill="#ef5350"/>
<rect x="958" y="354" width="1" height="13" fill="#26a69a"/>
<rect x="957" y="356" width="3" height="11" fill="#26a69a"/>
<rect x="962" y="327" width="1" height="31" fill="#26a69a"/>
<rect x="961" y="332" width="3" height="26" fill="#26a69a"/>
<rect x="966" y="316" width="1" height="16" fill="#26a69a"/>
<rect x="965" y="323" width="3" height="9" fill="#26a69a"/>
<rect x="969" y="320" width="1" height="10" fill="#ef5350"/>
<rect x="968" y="323" width="3" height="3" fill="#ef5350"/>
<rect x="973" y="321" width="1" height="27" fill="#ef5350"/>
<rect x="972" y="325" width="3" height="22" fill="#ef5350"/>
<rect x="977" y="329" width="1" height="19" fill="#ef5350"/>
<rect x="976" y="346" width="3" height="2" fill="#ef5350"/>
<rect x="981" y="326" width="1" height="28" fill="#26a69a"/>
<rect x="980" y="331" width="3" height="16" fill="#26a69a"/>
<rect x="984" y="292" width="1" height="40" fill="#26a69a"/>
<rect x="983" y="302" width="3" height="30" fill="#26a69a"/>
<rect x="988" y="294" width="1" height="25" fill="#26a69a"/>
<rect x="987" y="296" width="3" height="6" fill="#26a69a"/>
<rect x="992" y="287" width="1" height="28" fill="#ef5350"/>
<rect x="991" y="296" width="3" height="16" fill="#ef5350"/>
<rect x="995" y="299" width="1" height="21" fill="#ef5350"/>
<rect x="994" y="311" width="3" height="9" fill="#ef5350"/>
<rect x="999" y="304" width="1" height="19" fill="#26a69a"/>
<rect x="998" y="309" width="3" height="11" fill="#26a69a"/>
<rect x="1003" y="302" width="1" height="14" fill="#26a69a"/>
<rect x="1002" y="304" width="3" height="6" fill="#26a69a"/>
<rect x="1007" y="290" width="1" height="18" fill="#26a69a"/>
<rect x="1006" y="300" width="3" height="5" fill="#26a69a"/>
<rect x="1010" y="294" width="1" height="14" fill="#26a69a"/>
<rect x="1009" y="299" width="3" height="3" fill="#26a69a"/>
<rect x="1014" y="272" width="1" height="30" fill="#26a69a"/>
<rect x="1013" y="285" width="3" height="15" fill="#26a69a"/>
<rect x="1018" y="272" width="1" height="16" fill="#26a69a"/>
<rect x="1017" y="275" width="3" height="10" fill="#26a69a"/>
<rect x="1022" y="274" width="1" height="41" fill="#ef5350"/>
<rect x="1021" y="275" width="3" height="39" fill="#ef5350"/>
<rect x="1025" y="305" width="1" height="16" fill="#ef5350"/>
<rect x="1024" y="312" width="3" height="8" fill="#ef5350"/>
<rect x="1029" y="303" width="1" height="18" fill="#26a69a"/>
<rect x="1028" y="317" width="3" height="2" fill="#26a69a"/>
<rect x="1033" y="305" width="1" height="21" fill="#26a69a"/>
<rect x="1032" y="312" width="3" height="5" fill="#26a69a"/>
<rect x="1037" y="310" width="1" height="21" fill="#ef5350"/>
<rect x="1036" y="312" width="3" height="15" fill="#ef5350"/>
<rect x="1040" y="317" width="1" height="23" fill="#ef5350"/>
<rect x="1039" y="327" width="3" height="8" fill="#ef5350"/>
<rect x="1044" y="326" width="1" height="10" fill="#26a69a"/>
<rect x="1043" y="331" width="3" height="3" fill="#26a69a"/>
<rect x="1048" y="327" width="1" height="4" fill="#26a69a"/>
<rect x="1047" y="329" width="3" height="2" fill="#26a69a"/>
<rect x="1051" y="322" width="1" height="17" fill="#ef5350"/>
<rect x="1050" y="330" width="3" height="7" fill="#ef5350"/>
<rect x="1055" y="320" width="1" height="19" fill="#ef5350"/>
<rect x="1054" y="336" width="3" height="2" fill="#ef5350"/>
<rect x="1059" y="327" width="1" height="11" fill="#26a69a"/>
<rect x="1058" y="331" width="3" height="7" fill="#26a69a"/>
<rect x="1063" y="323" width="1" height="15" fill="#26a69a"/>
<rect x="1062" y="325" width="3" height="7" fill="#26a69a"/>
<rect x="1066" y="324" width="1" height="10" fill="#ef5350"/>
<rect x="1065" y="324" width="3" height="10" fill="#ef5350"/>
<rect x="1070" y="326" width="1" height="28" fill="#ef5350"/>
<rect x="1069" y="332" width="3" height="14" fill="#ef5350"/>
<rect x="1074" y="326" width="1" height="20" fill="#26a69a"/>
<rect x="1073" y="331" width="3" height="15" fill="#26a69a"/>
<rect x="1078" y="327" width="1" height="31" fill="#ef5350"/>
<rect x="1077" y="331" width="3" height="23" fill="#ef5350"/>
<rect x="1081" y="324" width="1" height="39" fill="#26a69a"/>
<rect x="1080" y="326" width="3" height="28" fill="#26a69a"/>
<rect x="1085" y="307" width="1" height="19" fill="#26a69a"/>
<rect x="1084" y="312" width="3" height="14" fill="#26a69a"/>
<rect x="1089" y="309" width="1" height="14" fill="#ef5350"/>
<rect x="1088" y="312" width="3" height="5" fill="#ef5350"/>
<rect x="1093" y="312" width="1" height="12" fill="#ef5350"/>
<rect x="1092" y="316" width="3" height="2" fill="#ef5350"/>
<rect x="1096" y="302" width="1" height="24" fill="#26a69a"/>
<rect x="1095" y="308" width="3" height="10" fill="#26a69a"/>
<rect x="1100" y="302" width="1" height="14" fill="#26a69a"/>
<rect x="1099" y="305" width="3" height="4" fill="#26a69a"/>
<rect x="1104" y="296" width="1" height="17" fill="#ef5350"/>
<rect x="1103" y="305" width="3" height="6" fill="#ef5350"/>
<rect x="1107" y="294" width="1" height="19" fill="#26a69a"/>
<rect x="1106" y="296" width="3" height="14" fill="#26a69a"/>
<rect x="1111" y="273" width="1" height="28" fill="#26a69a"/>
<rect x="1110" y="278" width="3" height="19" fill="#26a69a"/>
</g>
<g font-size="12" fill="#2a2e39">
<text x="1198" y="20" textLength="21" lengthAdjust="spacingAndGlyphs">USD</text>
<text x="1197" y="43">1.4000</text>
<text x="1197" y="73">1.3800</text>
<text x="1197" y="103">1.3600</text>
<text x="1197" y="133">1.3400</text>
<text x="1197" y="163">1.3200</text>
<text x="1197" y="193">1.3000</text>
<text x="1197" y="224">1.2800</text>
<text x="1197" y="254">1.2600</text>
<text x="1197" y="284">1.2400</text>
<text x="1197" y="314">1.2200</text>
<text x="1197" y="344">1.2000</text>
<text x="1197" y="374">1.1800</text>
<text x="1197" y="404">1.1600</text>
<text x="1197" y="434">1.1400</text>
<text x="1197" y="465">1.1200</text>
<text x="1197" y="495">1.1000</text>
<text x="1197" y="525">1.0800</text>
<text x="1197" y="555">1.0600</text>
<text x="1197" y="585">1.0400</text>
<text x="1197" y="615">1.0200</text>
</g>
<g font-size="12" fill="#2a2e39" text-anchor="middle" clip-path="url(#taxis)">
<text x="10.5" y="657">Dec</text>
<text x="96.5" y="657" font-weight="bold">2022</text>
<text x="249.5" y="657">Mar</text>
<text x="335.5" y="657">Apr</text>
<text x="495.5" y="657">Jun</text>
<text x="577.5" y="657">Jul</text>
<text x="660.5" y="657">2</text>
<text x="742.5" y="657">Sep</text>
<text x="824.5" y="657">Oct</text>
<text x="984.5" y="657">Dec</text>
<text x="1066.5" y="657" font-weight="bold">2023</text>
<text x="1149.5" y="657">Feb</text>
</g>
<path d="M1135,270 h52 v17 h-52 a2,2 0 0 1 -2,-2 v-13 a2,2 0 0 1 2,-2z" fill="#26a69a"/>
<path d="M1188,270 h50 a2,2 0 0 1 2,2 v13 a2,2 0 0 1 -2,2 h-50z" fill="#26a69a"/>
<text x="1138.2" y="283" font-size="11.5" font-weight="bold" fill="#fff" textLength="43" lengthAdjust="spacingAndGlyphs">GBPUSD</text>
<text x="1198" y="283" font-size="12" font-weight="bold" fill="#fff" textLength="35.5" lengthAdjust="spacingAndGlyphs">1.2407</text>
<circle cx="1111.5" cy="626.5" r="9.5" fill="#fff" stroke="#9c27b0" stroke-width="1.5"/>
<polyline points="1114.4,621.4 1108.1,626.4 1115,626.4 1108.7,631.4" fill="none" stroke="#9c27b0" stroke-width="1.8" stroke-linecap="round" stroke-linejoin="round"/>
<circle cx="1216" cy="653" r="10" fill="#f0f3fa"/>
<text x="1216" y="656.5" font-size="12" fill="#2a2e39" text-anchor="middle">A</text>
<g font-size="12">
<text x="12" y="21" fill="#2a2e39">British Pound / U.S. Dollar, 1D, IDC</text>
<text x="207" y="21" fill="#2a2e39">O</text>
<text x="214.5" y="21" fill="#26a69a">1.2284</text>
<text x="257.5" y="21" fill="#2a2e39">H</text>
<text x="264.5" y="21" fill="#26a69a">1.2436</text>
<text x="308.5" y="21" fill="#2a2e39">L</text>
<text x="314.5" y="21" fill="#26a69a">1.2255</text>
<text x="358.5" y="21" fill="#2a2e39">C</text>
<text x="365.5" y="21" fill="#26a69a">1.2407</text>
<text x="408" y="21" fill="#26a69a">+0.0123</text>
<text x="454" y="21" fill="#26a69a">(+1.00%)</text>
<text x="12" y="38" fill="#2a2e39">MA (200, close, 0)</text>
<text x="115.5" y="38" fill="#ff9800">1.1983</text>
<text x="12" y="55" fill="#2a2e39">MA (50, close, 0, SMA, 5)</text>
<text x="153" y="55" fill="#2a2e39">1.2085</text>
</g>
<g transform="translate(4,676.8) scale(0.55)" fill="#131722"><path d="M14 22H7V11H0V4h14v18zM28 22h-8l7.5-18h8L28 22z"/><circle cx="20" cy="8" r="4"/></g>
<text x="27" y="689" font-size="13" fill="#2a2e39">TradingView</text>
</svg></body></html>
